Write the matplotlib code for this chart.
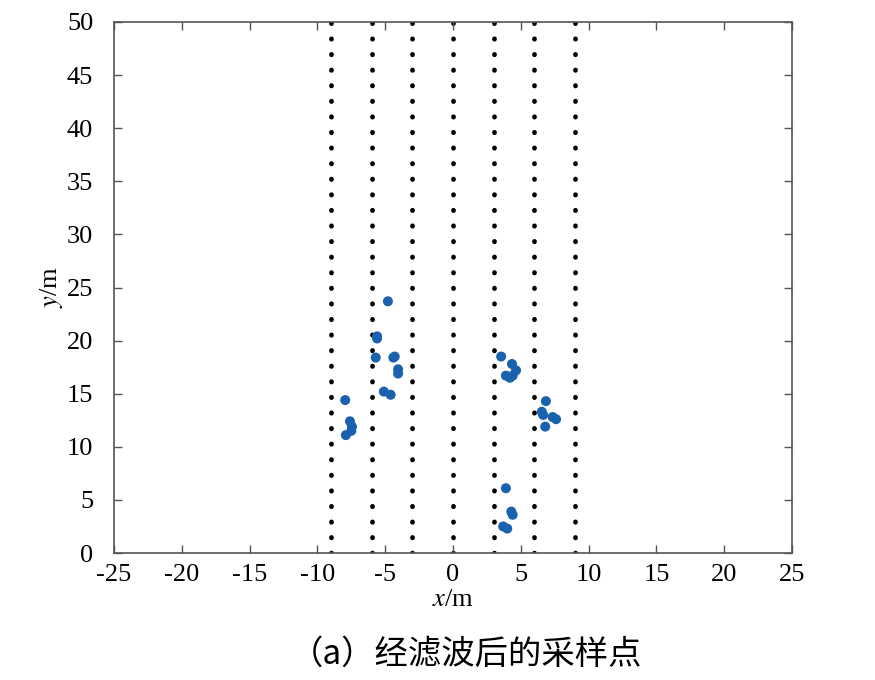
import matplotlib
matplotlib.use('Agg')
import matplotlib.pyplot as plt

# sample points after filtering (x, y in metres)
pts_x = [-4.8, -5.6, -5.6, -5.7, -4.4, -4.3, -4.05, -4.05, -5.1, -4.6,
         -7.95, -7.6, -7.45, -7.5, -7.9,
         3.55, 4.35, 4.65, 3.9, 4.2, 4.4,
         6.85, 6.55, 6.65, 7.35, 7.6, 6.8,
         3.9, 4.3, 4.4, 3.7, 4.0]
pts_y = [23.7, 20.4, 20.2, 18.4, 18.4, 18.5, 17.3, 16.9, 15.2, 14.9,
         14.4, 12.4, 11.9, 11.5, 11.1,
         18.5, 17.8, 17.2, 16.7, 16.5, 16.7,
         14.3, 13.3, 13.0, 12.8, 12.6, 11.9,
         6.1, 3.9, 3.6, 2.5, 2.3]
lane_x = [-9, -6, -3, 0, 3, 6, 9]

xticks = list(range(-25, 26, 5))
yticks = list(range(0, 51, 5))

plt.rcParams['font.family'] = ['Liberation Serif', 'Noto Sans CJK SC']
plt.rcParams['mathtext.fontset'] = 'stix'
plt.rcParams['axes.unicode_minus'] = False

fig = plt.figure(figsize=(8.75, 6.8), dpi=100)
ax = fig.add_axes([114 / 875, 1 - 553 / 680, 678 / 875, 531 / 680])

for lx in lane_x:
    ax.axvline(lx, color='black', linestyle=(0, (0.1, 3.2)), linewidth=3.4,
               dash_capstyle='round', zorder=1)

ax.scatter(pts_x, pts_y, s=52, color='#1a62ad', edgecolors='none', zorder=3)

ax.set_xlim(-25, 25)
ax.set_ylim(0, 50)
ax.set_xticks(xticks)
ax.set_yticks(yticks)
ax.set_xticklabels([str(t) for t in xticks])
ax.set_yticklabels([str(t) for t in yticks])
ax.tick_params(direction='in', length=6, width=1, color='#555555',
               top=True, right=True, labelsize=19)
ax.tick_params(axis='x', pad=8)
ax.tick_params(axis='y', pad=15)
for sp in ax.spines.values():
    sp.set_color('#555555')
    sp.set_linewidth(1.2)

ax.set_xlabel(r'$x$/m', fontsize=19, labelpad=2)
ax.set_ylabel(r'$y$/m', fontsize=19, labelpad=1)

fig.text(466 / 875, 1 - 654 / 680, '（a）经滤波后的采样点', ha='center', va='center',
         fontsize=24, family=['Noto Sans CJK SC', 'DejaVu Sans'], weight='light')

fig.savefig('out.png', dpi=100)
